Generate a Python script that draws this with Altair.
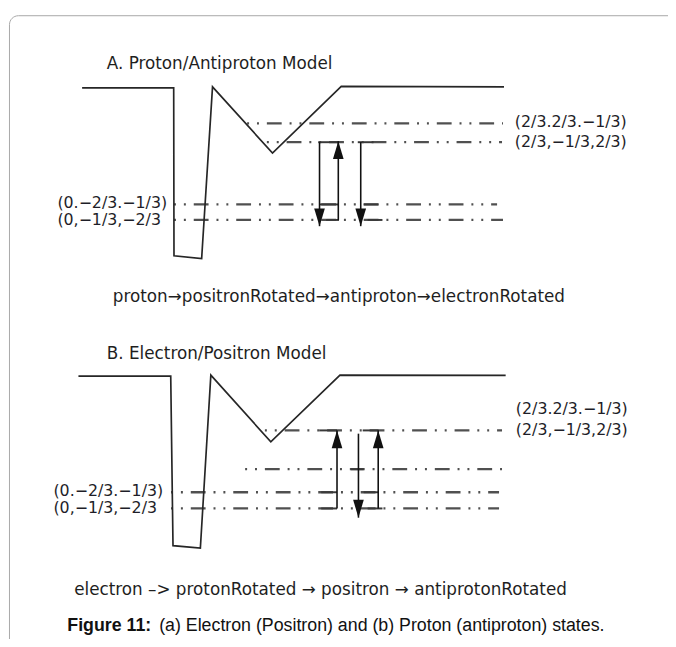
import altair as alt
import pandas as pd

# ---------------- data (diagram coordinates, y grows downward) ----------------
# Potential profile, panel A and panel B
pot_a_x = [83, 175.7, 176, 204, 215, 275.7, 345.3, 510]
pot_a_y = [85, 85, 255, 257.7, 84, 151, 83.5, 84]
pot_b_x = [79.3, 172.7, 175, 202.7, 213.3, 274, 344, 511.7]
pot_b_y = [376.7, 376.7, 548.3, 550.7, 375.7, 443.3, 375.7, 376]

# Energy levels (dash-dot lines)
level_y = [121, 140, 203, 218.7, 431.7, 471, 494.3, 510.7]
level_x0 = [250, 270, 176, 176, 268, 248, 173, 173]
level_x1 = [509, 508, 503, 509, 508, 510, 505, 505]

# Short solid level pieces beside the transition arrows
seg_y = [140, 203, 218.7, 140, 203, 218.7,
         431.7, 494.3, 510.7, 431.7, 494.3, 510.7, 471]
seg_x0 = [322, 323, 330, 362, 368, 372,
          323, 325, 325, 367, 368, 372, 355]
seg_x1 = [342, 342, 343, 378, 383, 387,
          341, 341, 341, 383, 383, 387, 368]

# Transition arrows: x, start level, end level (tip)
arrow_x = [323.3, 342.3, 365, 341, 362.7, 382.7]
arrow_from = [140, 218.7, 140, 510.7, 435, 510.7]
arrow_to = [225, 139, 225, 431.7, 520, 431.7]

# State labels
state_text = ["(2/3.2/3.−1/3)", "(2/3,−1/3,2/3)", "(0.−2/3.−1/3)", "(0,−1/3,−2/3",
              "(2/3.2/3.−1/3)", "(2/3,−1/3,2/3)", "(0.−2/3.−1/3)", "(0,−1/3,−2/3"]
state_x = [521, 521, 58, 58, 522, 522, 54, 54]
state_y = [119.5, 139.5, 201.5, 218.5, 410, 431.7, 493.5, 510.7]

# Headings and sequences
head_text = ["A. Proton/Antiproton Model",
             "proton→positronRotated→antiproton→electronRotated",
             "B. Electron/Positron Model",
             "electron –> protonRotated → positron → antiprotonRotated"]
head_x = [108, 114, 108, 75]
head_y = [61, 297, 354, 593]

# Caption (bold lead + regular text)
cap_bold = ["Figure 11:"]
cap_rest = ["(a) Electron (Positron) and (b) Proton (antiproton) states."]
cap_x = [68, 161]
cap_y = [630, 630]

# Frame (rounded panel border)
frame_x = [9.5]
frame_y = [12]
frame_x2 = [720]
frame_y2 = [720]

# ---------------- tables ----------------
pot = pd.DataFrame({
    "x": pot_a_x + pot_b_x,
    "y": pot_a_y + pot_b_y,
    "i": list(range(len(pot_a_x))) + list(range(len(pot_b_x))),
    "panel": ["A"] * len(pot_a_x) + ["B"] * len(pot_b_x),
})
levels = pd.DataFrame({"x": level_x0, "x2": level_x1, "y": level_y})
segs = pd.DataFrame({"x": seg_x0, "x2": seg_x1, "y": seg_y})
arrows = pd.DataFrame({"x": arrow_x, "y": arrow_from, "y2": arrow_to})
heads = pd.DataFrame({
    "x": arrow_x,
    "y": arrow_to,
    "shape": ["M0,0L-0.6,-2L0.6,-2Z" if t > f else "M0,0L-0.6,2L0.6,2Z"
              for f, t in zip(arrow_from, arrow_to)],
})
states = pd.DataFrame({"x": state_x, "y": state_y, "t": state_text})
headsx = pd.DataFrame({"x": head_x, "y": head_y, "t": head_text})
cap_b = pd.DataFrame({"x": cap_x[:1], "y": cap_y[:1], "t": cap_bold})
cap_r = pd.DataFrame({"x": cap_x[1:], "y": cap_y[1:], "t": cap_rest})
frame = pd.DataFrame({"x": frame_x, "y": frame_y, "x2": frame_x2, "y2": frame_y2})

XS = alt.Scale(domain=[8, 668], nice=False, zero=False)
YS = alt.Scale(domain=[8, 639], nice=False, zero=False, reverse=True)


def X(f="x"):
    return alt.X(f"{f}:Q", scale=XS, axis=None)


def Y(f="y"):
    return alt.Y(f"{f}:Q", scale=YS, axis=None)


frame_l = alt.Chart(frame).mark_rect(
    filled=False, stroke="#a8a8a8", strokeWidth=1, cornerRadius=9
).encode(x=X(), y=Y(), x2="x2:Q", y2="y2:Q")

pot_l = alt.Chart(pot).mark_line(color="#262626", strokeWidth=1.7).encode(
    x=X(), y=Y(), order="i:Q", detail="panel:N"
)

lev_l = alt.Chart(levels).mark_rule(
    color="#505050", strokeWidth=2.3, strokeDash=[2, 8, 2, 8, 15, 8]
).encode(x=X(), x2="x2:Q", y=Y())

seg_l = alt.Chart(segs).mark_rule(color="#3a3a3a", strokeWidth=2).encode(
    x=X(), x2="x2:Q", y=Y()
)

arr_l = alt.Chart(arrows).mark_rule(color="#111111", strokeWidth=1.6).encode(
    x=X(), y=Y(), y2="y2:Q"
)

head_l = alt.Chart(heads).mark_point(
    filled=True, color="#111111", opacity=1, size=324, strokeWidth=0
).encode(x=X(), y=Y(), shape=alt.Shape("shape:N", scale=None, legend=None))

state_l = alt.Chart(states).mark_text(
    align="left", baseline="middle", font="DejaVu Sans", fontSize=16, color="#1e1e28"
).encode(x=X(), y=Y(), text="t:N")

headt_l = alt.Chart(headsx).mark_text(
    align="left", baseline="middle", font="DejaVu Sans", fontSize=17, color="#1e1e1e"
).encode(x=X(), y=Y(), text="t:N")

capb_l = alt.Chart(cap_b).mark_text(
    align="left", baseline="middle", font="Liberation Sans", fontSize=18,
    fontWeight="bold", color="#111111"
).encode(x=X(), y=Y(), text="t:N")

capr_l = alt.Chart(cap_r).mark_text(
    align="left", baseline="middle", font="Liberation Sans", fontSize=18,
    color="#111111"
).encode(x=X(), y=Y(), text="t:N")

chart = alt.layer(
    frame_l, lev_l, seg_l, pot_l, arr_l, head_l, state_l, headt_l, capb_l, capr_l
).properties(
    width=660, height=631,
    autosize=alt.AutoSizeParams(type="none"),
    padding={"left": 0, "top": 0, "right": 8, "bottom": 0},
    background="white",
).configure_view(stroke=None)

chart.save("out.html", embed_options={"renderer": "svg", "actions": False})
